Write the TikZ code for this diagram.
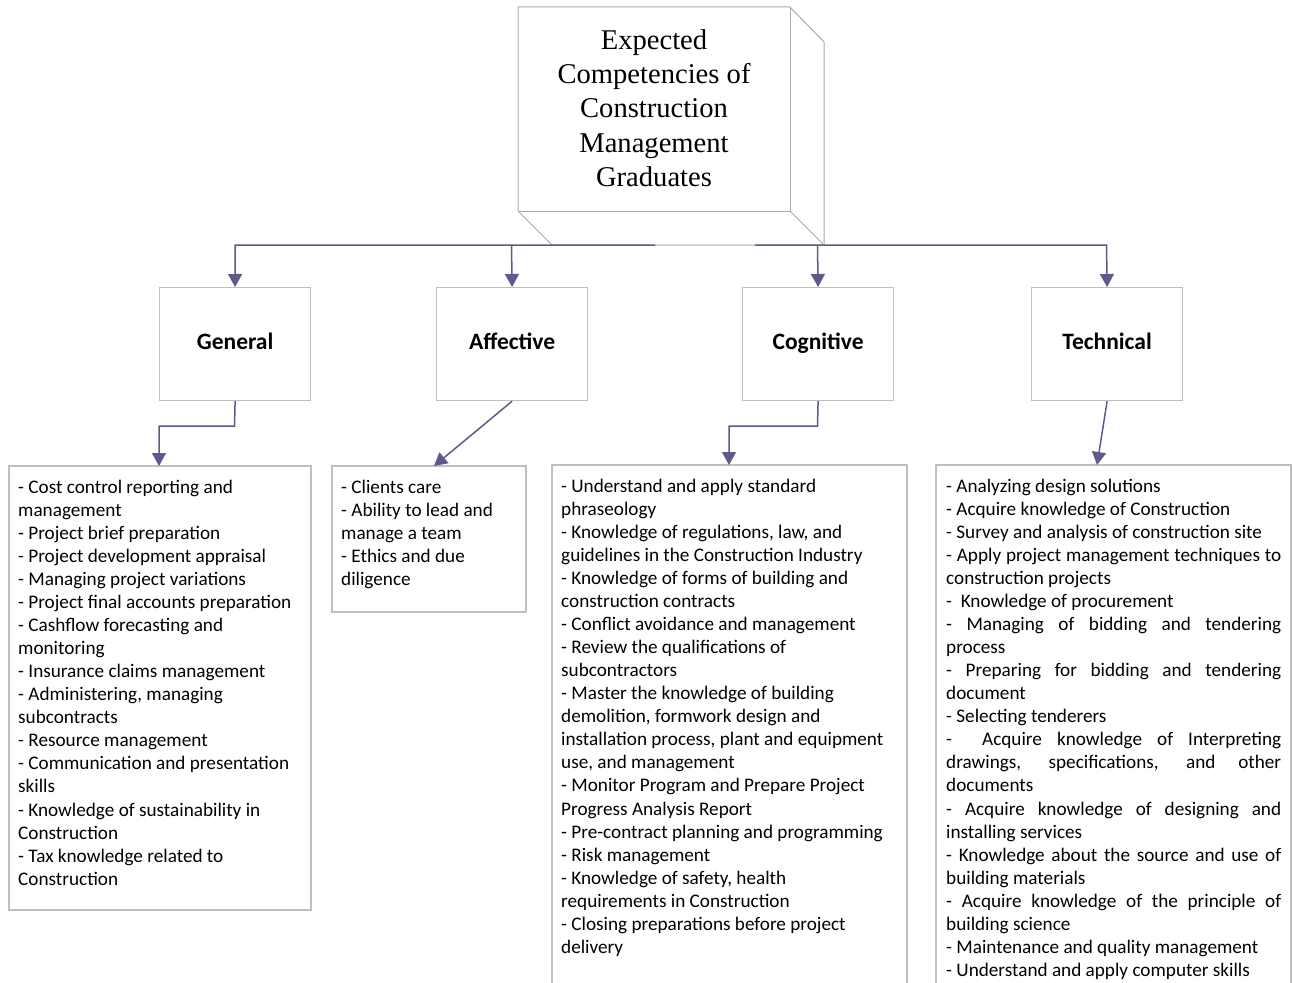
\documentclass[tikz,border=0pt]{standalone}
\usepackage{fontspec}
\setmainfont{Liberation Serif}
\newfontfamily\calfont{Carlito}
\usetikzlibrary{arrows.meta}
\definecolor{arrowcol}{RGB}{96,90,140}
\definecolor{boxgray}{RGB}{191,191,191}
\definecolor{cubegray}{RGB}{170,170,170}
\newcommand\jst[1]{\makebox[335pt][s]{#1}}
\begin{document}
\begin{tikzpicture}[x=1pt,y=-1pt,
  conn/.style={draw=arrowcol,line width=1.5pt,-{Triangle[width=14pt,length=13pt]}},
  catbox/.style={draw=boxgray,line width=1.2pt,minimum width=151pt,minimum height=113pt,inner sep=0pt,text height=15pt,text depth=4pt,font={\calfont\bfseries\fontsize{23.5}{27}\selectfont}},
  listbox/.style={draw=boxgray,line width=1.2pt},
  listtext/.style={anchor=north west,inner sep=0pt,align=left,font={\calfont\fontsize{19.2}{23.05}\selectfont}}]
\useasboundingbox[fill=white] (0,0) rectangle (1292,982);
% cube
\draw[cubegray,line width=1pt,fill=white] (518,7) -- (790,7) -- (824,42) -- (824,245) -- (552,245) -- (518,211) -- cycle;
\draw[cubegray,line width=1pt] (790,7) -- (790,211) -- (518,211);
\draw[cubegray,line width=1pt] (790,211) -- (824,245);
\node[font={\fontsize{28.6}{34.3}\selectfont},align=center] (top) at (654,108) {Expected\\Competencies of\\Construction\\Management\\Graduates};
% categories
\node[catbox,anchor=north west] (gen) at (159,287) {General};
\node[catbox,anchor=north west] (aff) at (436,287) {Affective};
\node[catbox,anchor=north west] (cog) at (742,287) {Cognitive};
\node[catbox,anchor=north west] (tec) at (1031,287) {Technical};
% junction coordinates
\coordinate (jl) at (655,245);
\coordinate (jr) at (755,245);
\draw[conn] (jl) -- (235,245) -- (gen.north);
\draw[conn] (511.5,245) -- (aff.north);
\draw[conn] (jr) -- (1106.5,245) -- (tec.north);
\draw[conn] (817.5,245) -- (cog.north);
% list boxes
\draw[listbox] (9,466) rectangle (311,910);
\coordinate (genlist) at (159,466);
\draw[listbox] (332,466) rectangle (526,612);
\coordinate (afflist) at (434,466);
\draw[listbox] (552,990) -- (552,465) -- (907,465) -- (907,990);
\coordinate (coglist) at (729,465);
\draw[listbox] (936,990) -- (936,465) -- (1291,465) -- (1291,990);
\coordinate (teclist) at (1097,465);
\draw[conn] (gen.south) -- (234.5,426) -- (159,426) -- (genlist);
\draw[conn] (aff.south) -- (afflist);
\draw[conn] (cog.south) -- (817.5,426) -- (729,426) -- (coglist);
\draw[conn] (tec.south) -- (teclist);
% texts
\node[listtext] (gentext) at (18,477) {\strut- Cost control reporting and\\
management\\
- Project brief preparation\\
- Project development appraisal\\
- Managing project variations\\
- Project final accounts preparation\\
- Cashflow forecasting and\\
monitoring\\
- Insurance claims management\\
- Administering, managing\\
subcontracts\\
- Resource management\\
- Communication and presentation\\
skills\\
- Knowledge of sustainability in\\
Construction\\
- Tax knowledge related to\\
Construction};
\node[listtext] (afftext) at (341,477) {\strut- Clients care\\
- Ability to lead and\\
manage a team\\
- Ethics and due\\
diligence};
\node[listtext] (cogtext) at (561,476) {\strut- Understand and apply standard\\
phraseology\\
- Knowledge of regulations, law, and\\
guidelines in the Construction Industry\\
- Knowledge of forms of building and\\
construction contracts\\
- Conflict avoidance and management\\
- Review the qualifications of\\
subcontractors\\
- Master the knowledge of building\\
demolition, formwork design and\\
installation process, plant and equipment\\
use, and management\\
- Monitor Program and Prepare Project\\
Progress Analysis Report\\
- Pre-contract planning and programming\\
- Risk management\\
- Knowledge of safety, health\\
requirements in Construction\\
- Closing preparations before project\\
delivery};
\node[listtext] (tectext) at (946,476) {\strut- Analyzing design solutions\\
- Acquire knowledge of Construction\\
- Survey and analysis of construction site\\
\jst{- Apply project management techniques to}\\
construction projects\\
-\ \ Knowledge of procurement\\
\jst{- Managing of bidding and tendering}\\
process\\
\jst{- Preparing for bidding and tendering}\\
document\\
- Selecting tenderers\\
\jst{-\ \ Acquire knowledge of Interpreting}\\
\jst{drawings, specifications, and other}\\
documents\\
\jst{- Acquire knowledge of designing and}\\
installing services\\
\jst{- Knowledge about the source and use of}\\
building materials\\
\jst{- Acquire knowledge of the principle of}\\
building science\\
- Maintenance and quality management\\
- Understand and apply computer skills};
\end{tikzpicture}
\end{document}
